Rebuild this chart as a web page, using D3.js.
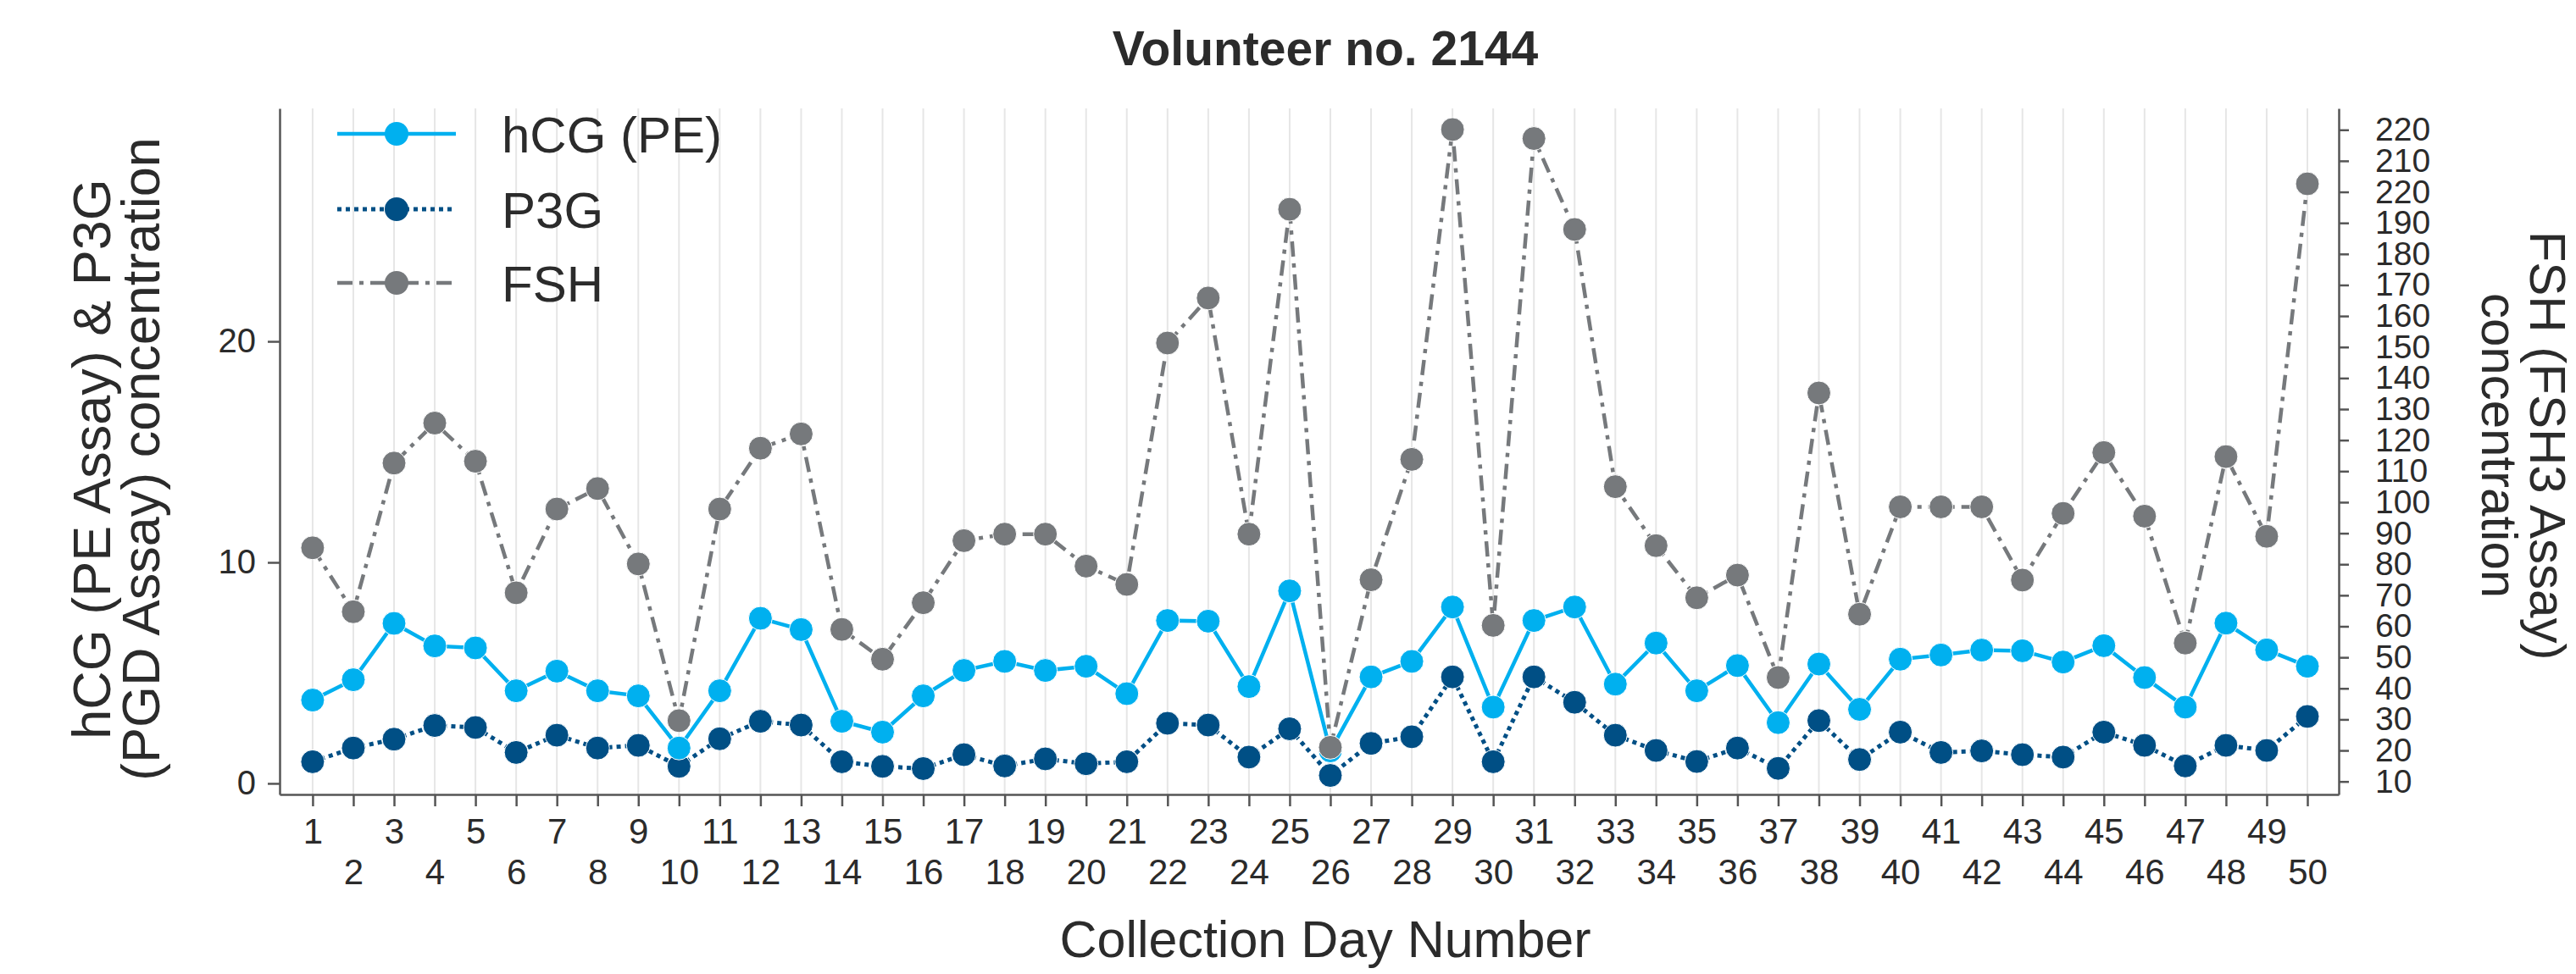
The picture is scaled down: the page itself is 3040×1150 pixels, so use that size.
<!DOCTYPE html>
<html>
<head>
<meta charset="utf-8">
<script src="https://cdn.jsdelivr.net/npm/d3@7"></script>
<style>
  body { margin: 0; background: #fff; }
  text { font-family: "Liberation Sans", Arial, Helvetica, sans-serif; fill: #2b2b2b; }
</style>
</head>
<body>
<div id="chart"></div>
<script>
// collection days 1..50
var days = d3.range(1, 51);

var hcg = [3.77, 4.69, 7.24, 6.22, 6.13, 4.19, 5.08, 4.19, 3.96, 1.60,
           4.19, 7.47, 6.96, 2.81, 2.32, 3.96, 5.11, 5.52, 5.11, 5.30,
           4.06, 7.37, 7.34, 4.38, 8.71, 1.47, 4.82, 5.52, 7.98, 3.45,
           7.37, 7.98, 4.49, 6.35, 4.19, 5.33, 2.75, 5.40, 3.35, 5.62,
           5.81, 6.03, 6.00, 5.49, 6.23, 4.79, 3.45, 7.25, 6.04, 5.30];

var p3g = [0.98, 1.60, 2.00, 2.62, 2.53, 1.40, 2.18, 1.60, 1.72, 0.77,
           2.02, 2.81, 2.64, 0.98, 0.77, 0.67, 1.30, 0.79, 1.11, 0.89,
           0.98, 2.72, 2.64, 1.19, 2.47, 0.36, 1.81, 2.11, 4.82, 0.98,
           4.82, 3.67, 2.18, 1.49, 0.99, 1.60, 0.68, 2.84, 1.08, 2.32,
           1.40, 1.47, 1.30, 1.19, 2.32, 1.72, 0.79, 1.72, 1.49, 3.03];

var fsh = [85.3, 64.7, 112.6, 125.5, 113.2, 70.8, 97.8, 104.4, 80.1, 29.6,
           97.8, 117.4, 122.0, 59.0, 49.4, 67.6, 87.6, 89.7, 89.7, 79.4,
           73.5, 151.3, 165.8, 89.7, 194.4, 21.0, 75.0, 113.8, 220.1, 60.3,
           217.2, 187.9, 105.0, 86.0, 69.2, 76.5, 43.5, 135.2, 63.9, 98.5,
           98.5, 98.5, 74.9, 96.4, 116.0, 95.5, 54.6, 114.7, 89.0, 202.6];

var leftTicks = [0, 10, 20];
var rightTicks = [220, 210, 200, 190, 180, 170, 160, 150, 140, 130, 120,
                  110, 100, 90, 80, 70, 60, 50, 40, 30, 20, 10];
// labels as printed on the original (third one reads 220)
var rightTickLabels = ["220", "210", "220", "190", "180", "170", "160", "150", "140", "130", "120",
                       "110", "100", "90", "80", "70", "60", "50", "40", "30", "20", "10"];

var seriesNames = ["hCG (PE)", "P3G", "FSH"];

var width = 3040, height = 1150;
var plotLeft = 330, plotRight = 2760, plotTop = 128, plotBottom = 938;

var colHcg = "#00b0ef", colP3g = "#004f85", colFsh = "#76797c";
var axisCol = "#555";

var svg = d3.select("#chart").append("svg")
    .attr("width", width)
    .attr("height", height);

var x = d3.scaleLinear().domain([0.19, 50.77]).range([plotLeft, plotRight]);
var yL = d3.scaleLinear().domain([-0.5, 30.54]).range([plotBottom, plotTop]);
var yR = d3.scaleLinear().domain([5.82, 226.9]).range([plotBottom, plotTop]);

// vertical gridlines
svg.append("g").selectAll("line")
    .data(days).enter()
    .append("line")
    .attr("x1", function(d) { return x(d); })
    .attr("x2", function(d) { return x(d); })
    .attr("y1", plotTop)
    .attr("y2", plotBottom)
    .attr("stroke", "#e6e6e6")
    .attr("stroke-width", 2);

// axes
var gx = svg.append("g")
    .attr("transform", "translate(0," + plotBottom + ")")
    .call(d3.axisBottom(x).tickValues(days).tickSize(14).tickSizeOuter(0).tickPadding(14));
gx.selectAll("text")
    .attr("font-size", 42)
    .attr("dy", function(d) { return d % 2 === 0 ? "1.86em" : "0.71em"; });

var gl = svg.append("g")
    .attr("transform", "translate(" + plotLeft + ",0)")
    .call(d3.axisLeft(yL).tickValues(leftTicks).tickSize(14).tickSizeOuter(0).tickPadding(14));
gl.selectAll("text").attr("font-size", 40);

var gr = svg.append("g")
    .attr("transform", "translate(" + plotRight + ",0)")
    .call(d3.axisRight(yR).tickValues(rightTicks).tickSize(12).tickSizeOuter(0).tickPadding(31)
        .tickFormat(function(d, i) { return rightTickLabels[i]; }));
gr.selectAll("text").attr("font-size", 39);

[gx, gl, gr].forEach(function(g) {
    g.select(".domain").attr("stroke", axisCol).attr("stroke-width", 2.5);
    g.selectAll(".tick line").attr("stroke", axisCol).attr("stroke-width", 2.5);
    g.selectAll("text").attr("fill", "#2b2b2b").style("font-family", "Liberation Sans, Arial, sans-serif");
});

// series
var pts = function(vals) { return vals.map(function(v, i) { return { day: days[i], v: v }; }); };

function drawSeries(vals, scale, color, dash, lw) {
    var line = d3.line().x(function(d) { return x(d.day); }).y(function(d) { return scale(d.v); });
    var g = svg.append("g");
    g.append("path")
        .datum(pts(vals))
        .attr("d", line)
        .attr("fill", "none")
        .attr("stroke", color)
        .attr("stroke-width", lw)
        .attr("stroke-dasharray", dash);
    g.selectAll("circle")
        .data(pts(vals)).enter()
        .append("circle")
        .attr("cx", function(d) { return x(d.day); })
        .attr("cy", function(d) { return scale(d.v); })
        .attr("r", 14)
        .attr("fill", color)
        .attr("stroke", "#fff")
        .attr("stroke-width", 1);
}

drawSeries(p3g, yL, colP3g, "5,5", 5);
drawSeries(hcg, yL, colHcg, null, 4.5);
drawSeries(fsh, yR, colFsh, "18,8,5,8", 4.5);

// legend
var legend = svg.append("g");
var legendItems = [
    { name: seriesNames[0], color: colHcg, dash: null, lw: 4.5, y: 158 },
    { name: seriesNames[1], color: colP3g, dash: "5,5", lw: 5, y: 247 },
    { name: seriesNames[2], color: colFsh, dash: "18,8,5,8", lw: 4.5, y: 334 }
];
legendItems.forEach(function(it) {
    legend.append("line")
        .attr("x1", 398).attr("x2", 538)
        .attr("y1", it.y).attr("y2", it.y)
        .attr("stroke", it.color)
        .attr("stroke-width", it.lw)
        .attr("stroke-dasharray", it.dash);
    legend.append("circle")
        .attr("cx", 468).attr("cy", it.y).attr("r", 14)
        .attr("fill", it.color);
    legend.append("text")
        .attr("x", 592).attr("y", it.y)
        .attr("dy", "0.36em")
        .attr("font-size", 60)
        .text(it.name);
});

// titles
svg.append("text")
    .attr("x", 1564).attr("y", 77)
    .attr("text-anchor", "middle")
    .attr("font-size", 57)
    .attr("font-weight", "bold")
    .text("Volunteer no. 2144");

svg.append("text")
    .attr("x", 1564).attr("y", 1130)
    .attr("text-anchor", "middle")
    .attr("font-size", 61)
    .text("Collection Day Number");

var ylab = svg.append("text")
    .attr("transform", "translate(107,542) rotate(-90)")
    .attr("text-anchor", "middle")
    .attr("font-size", 63);
ylab.append("tspan").attr("x", 0).attr("dy", "0.36em").text("hCG (PE Assay) & P3G");
ylab.append("tspan").attr("x", 0).attr("dy", 58).text("(PGD Assay) concentration");

var ylabR = svg.append("text")
    .attr("transform", "translate(3008,526) rotate(90)")
    .attr("text-anchor", "middle")
    .attr("font-size", 60);
ylabR.append("tspan").attr("x", 0).attr("dy", "0.36em").text("FSH (FSH3 Assay)");
ylabR.append("tspan").attr("x", 0).attr("dy", 57).text("concentration");
</script>
</body>
</html>
